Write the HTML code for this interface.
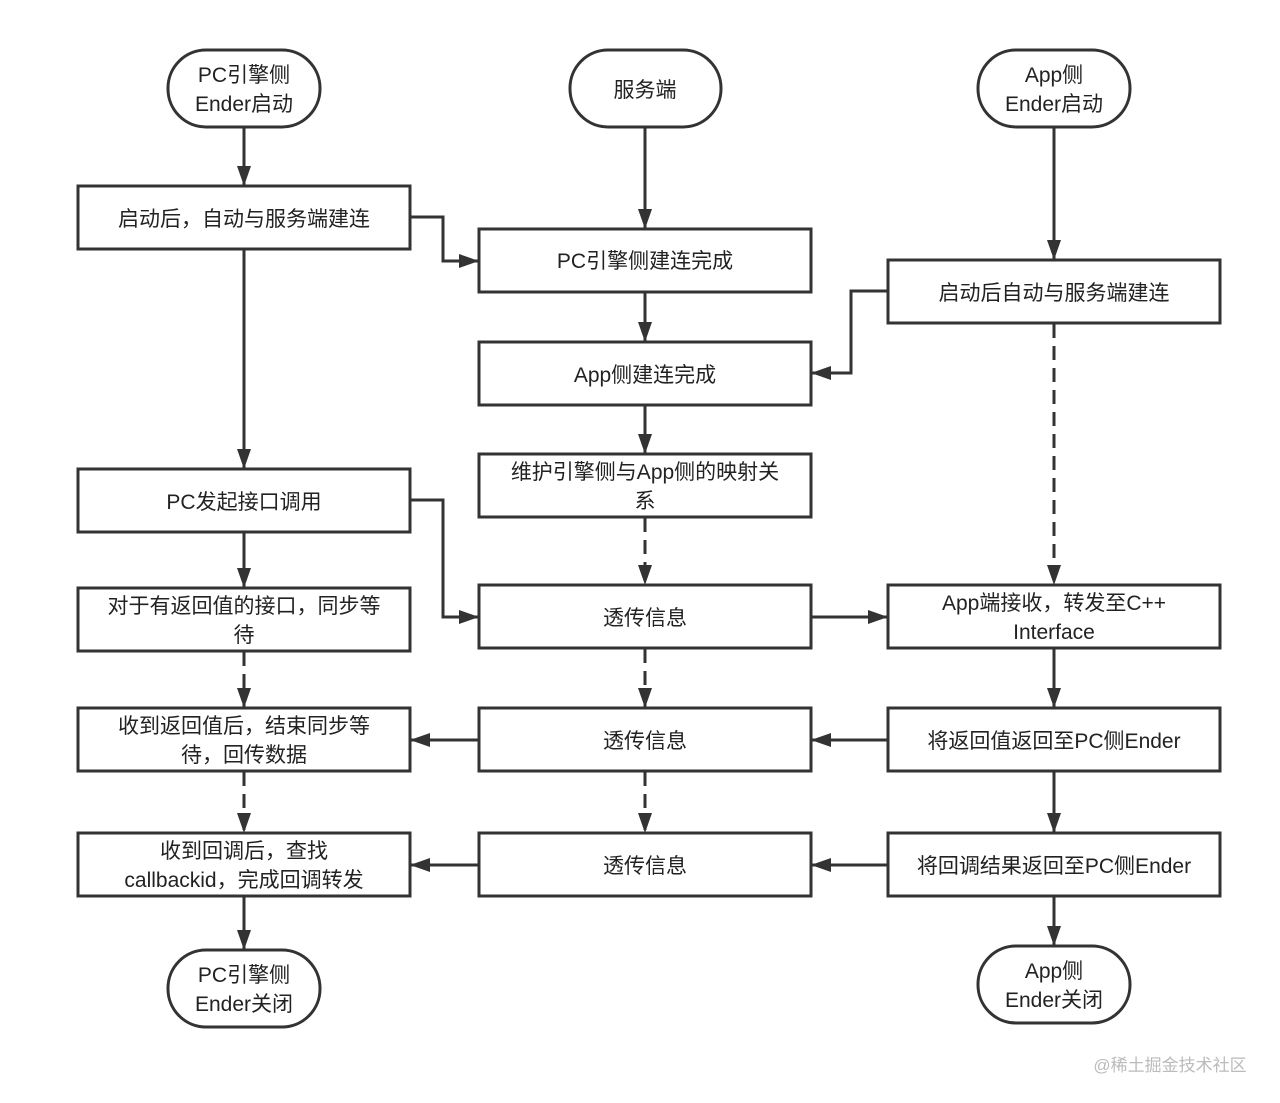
<!DOCTYPE html>
<html><head><meta charset="utf-8"><style>
html,body{margin:0;padding:0;background:#fff;}
svg{display:block;}
text{font-family:"Liberation Sans","Noto Sans CJK SC",sans-serif;font-size:21px;fill:#222;text-anchor:middle;}
</style></head><body>
<svg width="1280" height="1103" viewBox="0 0 1280 1103" xmlns="http://www.w3.org/2000/svg">
<defs>
<marker id="a" markerUnits="userSpaceOnUse" markerWidth="20" markerHeight="14" refX="19" refY="7" orient="auto">
<path d="M0,0 L20,7 L0,14 Z" fill="#333"/>
</marker>
</defs>
<g fill="#fff" stroke="#333" stroke-width="3">
<rect x="168" y="50" width="152" height="77" rx="38"/>
<rect x="570" y="50" width="151" height="77" rx="38"/>
<rect x="978" y="50" width="152" height="77" rx="38"/>
<rect x="168" y="950" width="152" height="77" rx="38"/>
<rect x="978" y="946" width="152" height="77" rx="38"/>
<rect x="78" y="186" width="332" height="63"/>
<rect x="78" y="469" width="332" height="63"/>
<rect x="78" y="588" width="332" height="63"/>
<rect x="78" y="708" width="332" height="63"/>
<rect x="78" y="833" width="332" height="63"/>
<rect x="479" y="229" width="332" height="63"/>
<rect x="479" y="342" width="332" height="63"/>
<rect x="479" y="454" width="332" height="63"/>
<rect x="479" y="585" width="332" height="63"/>
<rect x="479" y="708" width="332" height="63"/>
<rect x="479" y="833" width="332" height="63"/>
<rect x="888" y="260" width="332" height="63"/>
<rect x="888" y="585" width="332" height="63"/>
<rect x="888" y="708" width="332" height="63"/>
<rect x="888" y="833" width="332" height="63"/>
</g>
<g fill="none" stroke="#333" stroke-width="3" marker-end="url(#a)">
<path d="M244,128 V185"/>
<path d="M411,217 H443 V261 H478"/>
<path d="M244,250 V468"/>
<path d="M645,128 V228"/>
<path d="M645,293 V341"/>
<path d="M645,406 V453"/>
<path d="M1054,128 V259"/>
<path d="M887,291 H851 V373 H812"/>
<path d="M411,500 H443 V617 H478"/>
<path d="M244,533 V587"/>
<path d="M244,897 V949"/>
<path d="M812,617 H887"/>
<path d="M1054,649 V707"/>
<path d="M1054,772 V832"/>
<path d="M1054,897 V945"/>
<path d="M887,740 H812"/>
<path d="M478,740 H411"/>
<path d="M887,865 H812"/>
<path d="M478,865 H411"/>
</g>
<g fill="none" stroke="#333" stroke-width="3" stroke-dasharray="14,8" marker-end="url(#a)">
<path d="M645,518 V584"/>
<path d="M1054,324 V584"/>
<path d="M244,652 V707"/>
<path d="M244,772 V832"/>
<path d="M645,649 V707"/>
<path d="M645,772 V832"/>
</g>
<text x="244" y="82">PC引擎侧</text>
<text x="244" y="111">Ender启动</text>
<text x="645" y="97">服务端</text>
<text x="1054" y="82">App侧</text>
<text x="1054" y="111">Ender启动</text>
<text x="244" y="226">启动后，自动与服务端建连</text>
<text x="645" y="268">PC引擎侧建连完成</text>
<text x="1054" y="300">启动后自动与服务端建连</text>
<text x="645" y="382">App侧建连完成</text>
<text x="645" y="479">维护引擎侧与App侧的映射关</text>
<text x="645" y="508">系</text>
<text x="244" y="509">PC发起接口调用</text>
<text x="244" y="613">对于有返回值的接口，同步等</text>
<text x="244" y="642">待</text>
<text x="645" y="625">透传信息</text>
<text x="1054" y="610">App端接收，转发至C++</text>
<text x="1054" y="639">Interface</text>
<text x="244" y="733">收到返回值后，结束同步等</text>
<text x="244" y="762">待，回传数据</text>
<text x="645" y="748">透传信息</text>
<text x="1054" y="748">将返回值返回至PC侧Ender</text>
<text x="244" y="858">收到回调后，查找</text>
<text x="244" y="887">callbackid，完成回调转发</text>
<text x="645" y="873">透传信息</text>
<text x="1054" y="873">将回调结果返回至PC侧Ender</text>
<text x="244" y="982">PC引擎侧</text>
<text x="244" y="1011">Ender关闭</text>
<text x="1054" y="978">App侧</text>
<text x="1054" y="1007">Ender关闭</text>
<text x="1170" y="1071" style="font-size:17px;fill:#bbb;">@稀土掘金技术社区</text>
</svg>
</body></html>
